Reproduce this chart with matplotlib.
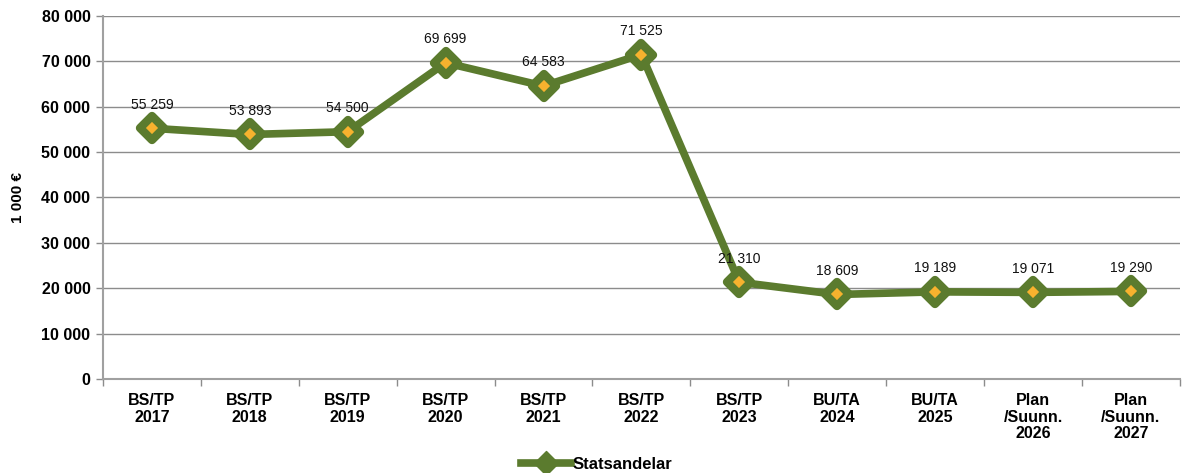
import matplotlib
matplotlib.use("Agg")
import matplotlib.pyplot as plt
from matplotlib.lines import Line2D
from matplotlib.markers import MarkerStyle
import numpy as np

plt.rcParams['font.family'] = ['Liberation Sans', 'DejaVu Sans']

# data
kategorier = ["BS/TP\n2017", "BS/TP\n2018", "BS/TP\n2019", "BS/TP\n2020", "BS/TP\n2021",
              "BS/TP\n2022", "BS/TP\n2023", "BU/TA\n2024", "BU/TA\n2025",
              "Plan\n/Suunn.\n2026", "Plan\n/Suunn.\n2027"]
statsandelar = [55259, 53893, 54500, 69699, 64583, 71525, 21310, 18609, 19189, 19071, 19290]

groen = "#5B7B2E"
orange = "#F7B22E"
grid_col = "#8C8C8C"


def fmt(v):
    return f"{v:,.0f}".replace(",", " ")


fig = plt.figure(figsize=(11.93, 4.73), dpi=100)
ax = fig.add_axes([0.0863, 0.199, 0.9027, 0.767])

x = np.arange(len(kategorier))
diamant = MarkerStyle("D", joinstyle="round")
ax.plot(x, statsandelar, color=groen, lw=5.5, marker=diamant, markersize=12.5,
        markerfacecolor=orange, markeredgecolor=groen, markeredgewidth=6,
        solid_joinstyle="round", zorder=3)

for xi, v in zip(x, statsandelar):
    ax.annotate(fmt(v), (xi, v), xytext=(0, 12), textcoords="offset points",
                ha="center", va="bottom", fontsize=10, color="#111111")

ax.set_xlim(-0.5, len(kategorier) - 0.5)
ax.set_ylim(0, 80000)
ax.set_yticks(np.arange(0, 80001, 10000))
ax.set_yticklabels([fmt(v) for v in np.arange(0, 80001, 10000)],
                   fontsize=11.5, fontweight="bold")
ax.set_xticks(x)
ax.set_xticklabels(kategorier, fontsize=11.5, fontweight="bold", linespacing=1.15)
ax.set_xticks(np.arange(-0.5, len(kategorier), 1), minor=True)
ax.tick_params(axis="x", which="major", length=0, pad=10)
ax.tick_params(axis="x", which="minor", length=5, color=grid_col, width=1)
ax.tick_params(axis="y", length=5, color=grid_col, width=1, pad=4)

ax.grid(axis="y", color=grid_col, lw=1)
ax.set_axisbelow(True)
for s in ["top", "right"]:
    ax.spines[s].set_visible(False)
for s in ["left", "bottom"]:
    ax.spines[s].set_color("#A0A0A0")
    ax.spines[s].set_linewidth(1.5)

ax.set_ylabel("1 000 €", fontsize=11, fontweight="bold", labelpad=12)

handle = Line2D([], [], color=groen, lw=5.5, marker=diamant, markersize=12,
                markerfacecolor=groen, markeredgecolor=groen)
fig.legend([handle], ["Statsandelar"], loc="lower center", bbox_to_anchor=(0.5, -0.03),
           frameon=False, prop={"weight": "bold", "size": 12},
           handlelength=3, handletextpad=0.1)

fig.savefig("out.png", dpi=100)
